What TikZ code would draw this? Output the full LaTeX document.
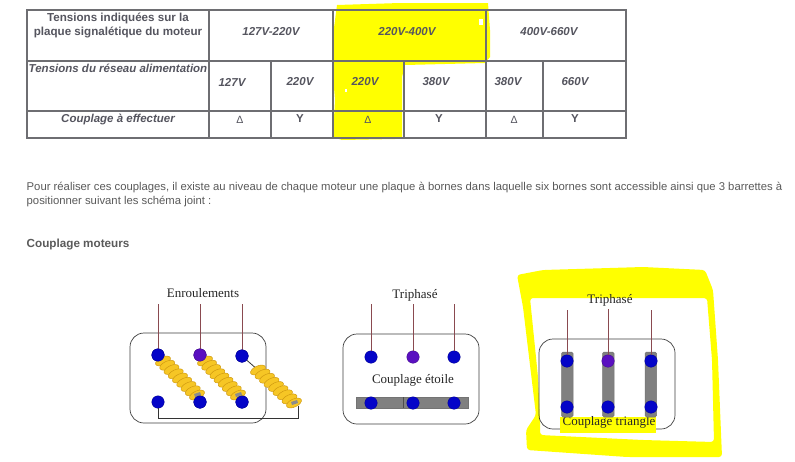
\documentclass[tikz,border=0pt]{standalone}
\usepackage{fontspec}
\setmainfont{Liberation Sans}
\newfontfamily\serifface{Liberation Serif}
\usetikzlibrary{calc}
\definecolor{tabline}{HTML}{6E6E72}
\definecolor{tabtext}{HTML}{55555F}
\definecolor{bodytext}{HTML}{5A5A5A}
\definecolor{hilite}{HTML}{FFFF00}
\definecolor{wirered}{HTML}{8A4A50}
\definecolor{termblue}{HTML}{0404C8}
\definecolor{termpurple}{HTML}{5A10C0}
\definecolor{barfill}{HTML}{808080}
\definecolor{coilfill}{HTML}{F6C625}
\definecolor{coilline}{HTML}{D09A10}
\tikzset{
  grid line/.style={draw=tabline,line width=1.2pt},
  celltext/.style={font=\fontsize{11.5}{13}\selectfont\bfseries\itshape,text=tabtext,inner sep=0pt,anchor=center},
  headtext/.style={font=\fontsize{11.6}{13}\selectfont\bfseries,text=tabtext,inner sep=0pt,anchor=center},
  symtext/.style={font=\fontsize{10.5}{12}\selectfont,text=tabtext,inner sep=0pt,anchor=center},
  ytext/.style={font=\fontsize{11.5}{13}\selectfont\bfseries,text=tabtext,inner sep=0pt,anchor=center},
  bodyline/.style={font=\fontsize{11.3}{13}\selectfont,text=bodytext,inner sep=0pt,anchor=west},
  titleline/.style={font=\fontsize{11.7}{13}\selectfont\bfseries,text=bodytext,inner sep=0pt,anchor=west},
  serlabel/.style={font=\fontsize{13}{15}\serifface\selectfont,text=black!85,inner sep=0pt,anchor=center},
  plate/.style={draw=black!75,line width=0.7pt,rounded corners=14pt},
  term/.style={circle,fill=termblue,draw=termblue!70!black,line width=0.3pt,minimum size=12.5pt,inner sep=0pt},
  termp/.style={term,fill=termpurple,draw=termpurple!70!black},
  phase/.style={draw=wirered,line width=0.8pt},
  link/.style={draw=black!80,line width=0.8pt},
  bar/.style={fill=barfill,draw=black!55,line width=0.5pt},
  coilturn/.style={fill=coilfill,draw=coilline,line width=0.5pt},
}
\newcommand{\coilpath}[2]{%
  \foreach \t in {0,0.125,...,1.01}{
    \path[coilturn] ($(#1)!\t!(#2)$) ellipse [x radius=8,y radius=4,rotate=25];
  }
  \fill[black!45] ($(#2)+(-3,-1)$) -- ($(#2)+(3,-3)$) -- ($(#2)+(4,0)$) -- ($(#2)+(-2,2)$) -- cycle;
}
\begin{document}
\begin{tikzpicture}[x=1pt,y=-1pt]
\useasboundingbox (0,0) rectangle (795,461);
\fill[white] (0,0) rectangle (795,461);

% table highlight
\fill[hilite] (337,5) -- (400,3) -- (488,3) -- (490,30) -- (490,57) -- (485,63) -- (405,65) -- (402,77) -- (402,137) -- (395,139) -- (342,140) -- (333,137) -- (335,100) -- (333,75) -- (332,43) -- cycle;
\fill[white] (479,19) rectangle (483,25);
\fill[white] (345,89) rectangle (347,92);

% table grid
\draw[grid line] (27,10) rectangle (626,138);
\draw[grid line] (27,61) -- (626,61);
\draw[grid line] (27,111) -- (626,111);
\draw[grid line] (209,10) -- (209,138);
\draw[grid line] (333,10) -- (333,138);
\draw[grid line] (486,10) -- (486,138);
\draw[grid line] (271,61) -- (271,138);
\draw[grid line] (404,61) -- (404,138);
\draw[grid line] (543,61) -- (543,138);

% table text
\node[headtext] (h1) at (118,18) {Tensions indiquées sur la};
\node[headtext] (h2) at (118,32) {plaque signalétique du moteur};
\node[celltext] (m1) at (271,32) {127V-220V};
\node[celltext] (m2) at (407,32) {220V-400V};
\node[celltext] (m3) at (549,32) {400V-660V};
\node[celltext] (r0) at (118,68) {Tensions du réseau alimentation};
\node[celltext] (r1) at (232,82) {127V};
\node[celltext] (r2) at (300,82) {220V};
\node[celltext] (r3) at (365,82) {220V};
\node[celltext] (r4) at (436,82) {380V};
\node[celltext] (r5) at (508,82) {380V};
\node[celltext] (r6) at (575,82) {660V};
\node[celltext] (c0) at (118,119) {Couplage à effectuer};
\node[symtext] (c1) at (240,119.5) {Δ};
\node[ytext] (c2) at (300,119) {Y};
\node[symtext] (c3) at (368,119.5) {Δ};
\node[ytext] (c4) at (439,119) {Y};
\node[symtext] (c5) at (514,119.5) {Δ};
\node[ytext] (c6) at (575,119) {Y};

% paragraph
\node[bodyline] (p1) at (26.5,188) {Pour réaliser ces couplages, il existe au niveau de chaque moteur une plaque à bornes dans laquelle six bornes sont accessible ainsi que 3 barrettes à};
\node[bodyline] (p2) at (26.5,202) {positionner suivant les schéma joint :};
\node[titleline] (p3) at (26.5,244) {Couplage moteurs};

% yellow hand-drawn frame
\fill[hilite,even odd rule,rounded corners=3pt] (517,275) -- (543,270) -- (643,267) -- (705,270) -- (713,290) -- (718,360) -- (722,457) -- (627,457) -- (527,450) -- (526,430) -- (536,415) -- (523,307) -- cycle
  (530,298) -- (610,298) -- (707,298) -- (712,360) -- (714,442) -- (643,440) -- (540,435) -- (540,420) -- (538,377) -- cycle;

% ---- left diagram
\node[plate,minimum width=136pt,minimum height=90pt,inner sep=0pt] (plateA) at (198,378) {};
\node[serlabel] (lblA) at (203,293) {Enroulements};
\coordinate (A1top) at (158,304);
\coordinate (A2top) at (200,304);
\coordinate (A3top) at (242,304);
\node[term] (A1) at (158,355) {};
\node[termp] (A2) at (200,355) {};
\node[term] (A3) at (242,356) {};
\node[term] (A4) at (158,402) {};
\node[term] (A5) at (200,402) {};
\node[term] (A6) at (242,402) {};
\draw[phase] (A1top) -- (A1);
\draw[phase] (A2top) -- (A2);
\draw[phase] (A3top) -- (A3);
\coordinate (C1a) at (163,361);
\coordinate (C1b) at (197,395);
\coordinate (C2a) at (205,361);
\coordinate (C2b) at (238,395);
\coordinate (C3a) at (258,370);
\coordinate (C3b) at (294,403);
\coordinate (C3t) at (298,406);
\coordinate (Ad2) at (298,418);
\draw[link] (A3) -- (C3a);
\draw[link] (A4) |- (Ad2) -- (C3t);
\coilpath{C1a}{C1b}
\coilpath{C2a}{C2b}
\coilpath{C3a}{C3b}
\node[term] at (A1) {};
\node[termp] at (A2) {};
\node[term] at (A3) {};
\node[term] at (A5) {};
\node[term] at (A6) {};

% ---- middle diagram
\node[plate,minimum width=136pt,minimum height=90pt,inner sep=0pt] (plateB) at (411,379) {};
\node[serlabel] (lblB) at (415,295) {Triphasé};
\node[serlabel] (lblB2) at (413,380) {Couplage étoile};
\path[bar] (356,397) rectangle (468,408);
\draw[black!70,line width=0.5pt] (403.5,397) -- (403.5,408);
\coordinate (B1top) at (371,304);
\coordinate (B2top) at (413,304);
\coordinate (B3top) at (454,304);
\node[term] (B1) at (371,357) {};
\node[termp] (B2) at (413,357) {};
\node[term] (B3) at (454,357) {};
\node[term] (B4) at (371,403) {};
\node[term] (B5) at (413,403) {};
\node[term] (B6) at (454,403) {};
\draw[phase] (B1top) -- (B1);
\draw[phase] (B2top) -- (B2);
\draw[phase] (B3top) -- (B3);

% ---- right diagram
\node[plate,minimum width=136pt,minimum height=90pt,inner sep=0pt] (plateC) at (607,384) {};
\fill[hilite] (560,417) rectangle (656,433);
\node[serlabel] (lblC) at (610,300) {Triphasé};
\node[serlabel] (lblC2) at (609,422) {Couplage triangle};
\path[bar,rounded corners=1.5pt] (561.5,352) rectangle (573,417);
\path[bar,rounded corners=1.5pt] (602.5,352) rectangle (614,417);
\path[bar,rounded corners=1.5pt] (645,352) rectangle (656.5,417);
\coordinate (C1top) at (567,310);
\coordinate (C2top) at (608,309);
\coordinate (C3top) at (651,310);
\node[term] (T1) at (567,361) {};
\node[termp] (T2) at (608,361) {};
\node[term] (T3) at (651,361) {};
\node[term] (T4) at (567,407) {};
\node[term] (T5) at (608,407) {};
\node[term] (T6) at (651,407) {};
\draw[phase] (C1top) -- (T1);
\draw[phase] (C2top) -- (T2);
\draw[phase] (C3top) -- (T3);
\end{tikzpicture}
\end{document}
